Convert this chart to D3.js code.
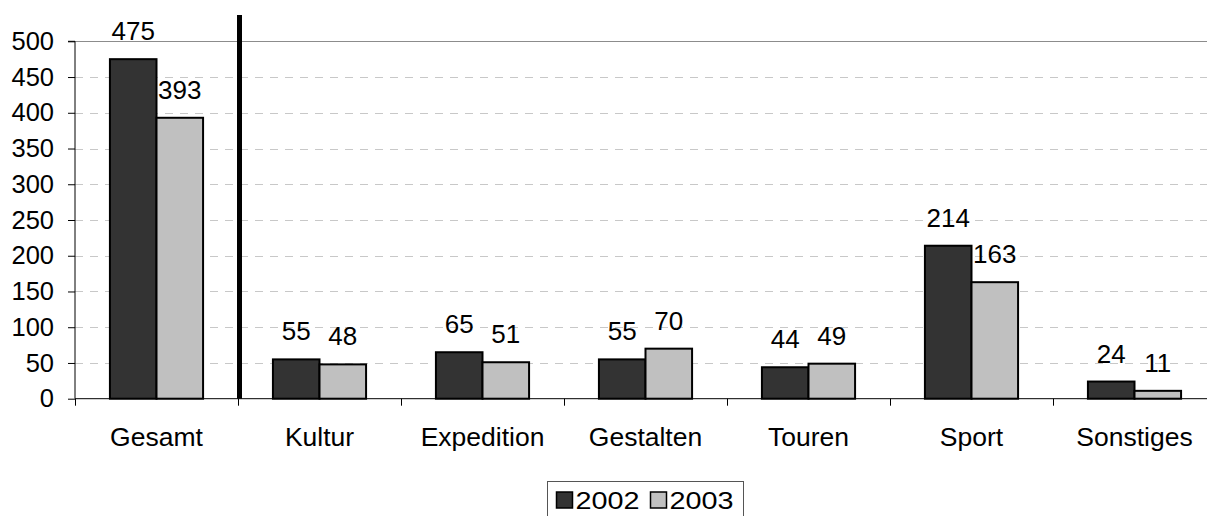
<!DOCTYPE html>
<html>
<head>
<meta charset="utf-8">
<script src="https://cdn.jsdelivr.net/npm/d3@7"></script>
<style>
  html, body { margin: 0; padding: 0; background: #fff; }
  svg { display: block; font-family: Arial, "Liberation Sans", sans-serif; }
</style>
</head>
<body>
<svg id="chart" width="1207" height="516"></svg>
<script>
// Werte
const categories = ["Gesamt", "Kultur", "Expedition", "Gestalten", "Touren", "Sport", "Sonstiges"];
const seriesNames = ["2002", "2003"];
const values2002 = [475, 55, 65, 55, 44, 214, 24];
const values2003 = [393, 48, 51, 70, 49, 163, 11];
const yTicks = [0, 50, 100, 150, 200, 250, 300, 350, 400, 450, 500];
const seriesColors = ["#333333", "#c0c0c0"];

const svg = d3.select("#chart");
const plotLeft = 75, plotTop = 41.3, plotBottom = 398.7, step = 163;

const x = d3.scaleBand().domain(categories).range([plotLeft, plotLeft + step * categories.length]).padding(0);
const xSub = d3.scaleBand().domain(seriesNames).range([0, x.bandwidth()]).paddingInner(0).paddingOuter(0.75);
const y = d3.scaleLinear().domain([0, 500]).range([plotBottom, plotTop]);

const rows = categories.map((c, i) => ({ cat: c, vals: [values2002[i], values2003[i]] }));

// gitterlinien
svg.append("g")
  .selectAll("line")
  .data(yTicks.filter((t) => t > 0))
  .join("line")
  .attr("x1", plotLeft).attr("x2", 1207)
  .attr("y1", (d) => Math.round(y(d)) + 0.5).attr("y2", (d) => Math.round(y(d)) + 0.5)
  .attr("stroke", (d) => (d === 500 ? "#8c8c8c" : "#c8c8c8"))
  .attr("stroke-width", 1)
  .attr("stroke-dasharray", (d) => (d === 500 ? null : "8,7"));

// y-achse
const yAxis = d3.axisLeft(y).tickValues(yTicks).tickSize(7).tickPadding(14);
const gy = svg.append("g").attr("transform", `translate(${plotLeft},0)`).call(yAxis);
gy.select(".domain").attr("stroke", "#000").attr("d", `M-7,${plotTop}H0V${plotBottom}`);
gy.selectAll(".tick line").attr("stroke", "#000");
gy.selectAll(".tick text").attr("font-size", 25.5).attr("fill", "#000").attr("font-family", "Arial, 'Liberation Sans', sans-serif");

// balken
const groups = svg.append("g")
  .selectAll("g")
  .data(rows)
  .join("g")
  .attr("transform", (d) => `translate(${x(d.cat)},0)`);

groups.selectAll("rect")
  .data((d) => d.vals.map((v, i) => ({ key: seriesNames[i], v, i })))
  .join("rect")
  .attr("x", (d) => xSub(d.key))
  .attr("y", (d) => y(d.v))
  .attr("width", xSub.bandwidth())
  .attr("height", (d) => y(0) - y(d.v))
  .attr("fill", (d) => seriesColors[d.i])
  .attr("stroke", "#000")
  .attr("stroke-width", 2);

groups.selectAll("text")
  .data((d) => d.vals.map((v, i) => ({ key: seriesNames[i], v })))
  .join("text")
  .attr("x", (d) => xSub(d.key) + xSub.bandwidth() / 2)
  .attr("y", (d) => y(d.v) - 19)
  .attr("text-anchor", "middle")
  .attr("font-size", 26)
  .attr("fill", "#000")
  .text((d) => d.v);

// x-achse
const xAxis = d3.axisBottom(x).tickSize(0).tickPadding(0);
const gx = svg.append("g").attr("transform", `translate(0,${plotBottom})`).call(xAxis);
gx.select(".domain").attr("stroke", "#000").attr("d", `M${plotLeft},0H1207`);
gx.selectAll(".tick text")
  .attr("y", 47)
  .attr("dy", 0)
  .attr("font-size", 26.5)
  .attr("fill", "#000")
  .attr("font-family", "Arial, 'Liberation Sans', sans-serif");
gx.selectAll("line.sep")
  .data(categories)
  .join("line")
  .attr("class", "sep")
  .attr("x1", (d) => x(d) + 0.5).attr("x2", (d) => x(d) + 0.5)
  .attr("y1", 0).attr("y2", 7)
  .attr("stroke", "#000");

// dicke trennlinie zwischen Gesamt und Kultur
svg.append("line")
  .attr("x1", x("Kultur") + 1.5).attr("x2", x("Kultur") + 1.5)
  .attr("y1", 15).attr("y2", plotBottom)
  .attr("stroke", "#000")
  .attr("stroke-width", 5);

// legende
const legend = svg.append("g").attr("transform", "translate(547.5,481.5)");
legend.append("rect")
  .attr("width", 196).attr("height", 60)
  .attr("fill", "#fff").attr("stroke", "#555").attr("stroke-width", 1);
const items = legend.selectAll("g.item")
  .data(seriesNames)
  .join("g")
  .attr("class", "item")
  .attr("transform", (d, i) => `translate(${9 + i * 94},0)`);
items.append("rect")
  .attr("x", 0).attr("y", 10.5)
  .attr("width", 16).attr("height", 16)
  .attr("fill", (d, i) => seriesColors[i])
  .attr("stroke", "#000").attr("stroke-width", 1.5);
items.append("text")
  .attr("x", 19).attr("y", 27)
  .attr("font-size", 23.5)
  .attr("textLength", 64)
  .attr("lengthAdjust", "spacingAndGlyphs")
  .attr("fill", "#000")
  .text((d) => d);
</script>
</body>
</html>
